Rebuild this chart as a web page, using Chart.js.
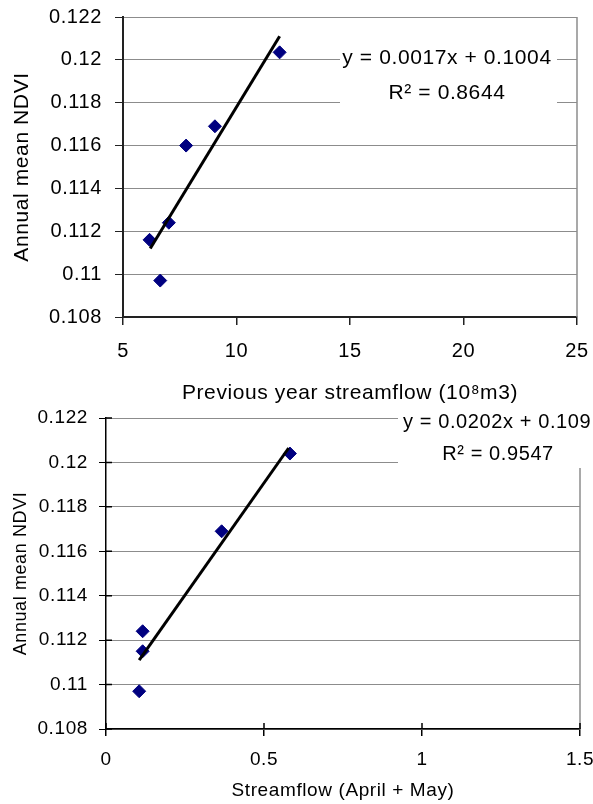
<!DOCTYPE html>
<html>
<head>
<meta charset="utf-8">
<title>Annual mean NDVI vs streamflow</title>
<script src="https://cdn.jsdelivr.net/npm/chart.js@4.4.1/dist/chart.umd.min.js"></script>
<style>
  html, body { margin: 0; padding: 0; background: #fff; }
  #wrap { position: relative; width: 593px; height: 804px; overflow: hidden; }
  canvas { position: absolute; left: 0; }
  #topChart { top: 0; }
  #bottomChart { top: 400px; }
</style>
</head>
<body>
<div id="wrap">
  <canvas id="topChart" width="593" height="404"></canvas>
  <canvas id="bottomChart" width="593" height="404"></canvas>
</div>
<script>
// ------------------ Data ------------------
// top: previous year streamflow (10^8 m3) vs annual mean NDVI
const prevFlow = [6.17, 6.64, 7.02, 7.78, 9.05, 11.9];
const prevNdvi = [0.1116, 0.1097, 0.1124, 0.1160, 0.1169, 0.12035];
const prevTrendX = [6.2, 11.9];
const prevTrendY = [0.1112, 0.1211];
const prevXTicks = [5, 10, 15, 20, 25];
const prevEq = ["y = 0.0017x + 0.1004", "R\u00b2 = 0.8644"];

// bottom: streamflow (April + May) vs annual mean NDVI
const springFlow = [0.105, 0.116, 0.116, 0.366, 0.582];
const springNdvi = [0.1097, 0.1115, 0.1124, 0.1169, 0.1204];
const springTrendX = [0.105, 0.578];
const springTrendY = [0.1111, 0.12065];
const springXTicks = [0, 0.5, 1, 1.5];
const springEq = ["y = 0.0202x + 0.109", "R\u00b2 = 0.9547"];

const ndviTicks = [0.108, 0.11, 0.112, 0.114, 0.116, 0.118, 0.12, 0.122];

const FONT = "'Liberation Sans', Arial, sans-serif";
const toXY = (xs, ys) => xs.map((x, i) => ({ x, y: ys[i] }));

// keep tick labels from pushing the plot area in
const noEdgePadding = axis => {
  axis.paddingLeft = 0;
  axis.paddingRight = 0;
  axis.paddingTop = 0;
  axis.paddingBottom = 0;
};

// right edge, inner tick halves and the white equation label
const framePlugin = {
  id: "frame",
  beforeDraw(chart, args, opts) {
    chart.ctx.letterSpacing = opts.spacing;
  },
  afterDraw(chart, args, opts) {
    const ctx = chart.ctx;
    const a = chart.chartArea;
    ctx.save();
    ctx.strokeStyle = "#8c8c8c";
    ctx.lineWidth = 1.5;
    ctx.beginPath();
    ctx.moveTo(a.right, a.top);
    ctx.lineTo(a.right, a.bottom);
    ctx.stroke();

    if (opts.innerTick) {
      const xs = chart.scales.x, ys = chart.scales.y;
      ctx.strokeStyle = "#000";
      ctx.lineWidth = 1.5;
      ctx.beginPath();
      xs.ticks.forEach(t => {
        const px = xs.getPixelForValue(t.value);
        ctx.moveTo(px, a.bottom);
        ctx.lineTo(px, a.bottom - opts.innerTick);
      });
      ys.ticks.forEach(t => {
        const py = ys.getPixelForValue(t.value);
        ctx.moveTo(a.left, py);
        ctx.lineTo(a.left + opts.innerTick, py);
      });
      ctx.stroke();
    }

    const b = opts.box;
    ctx.fillStyle = "#fff";
    ctx.fillRect(b.x, b.y, b.w, b.h);
    ctx.fillStyle = "#000";
    ctx.font = opts.font;
    ctx.textBaseline = "alphabetic";
    opts.lines.forEach(l => {
      ctx.textAlign = l.align;
      ctx.fillText(l.text, l.x, l.y);
    });
    ctx.restore();
  }
};

function makeChart(id, c) {
  return new Chart(document.getElementById(id), {
    type: "scatter",
    data: {
      datasets: [
        {
          data: toXY(c.trendX, c.trendY),
          showLine: true,
          borderColor: "#000",
          borderWidth: 3,
          pointRadius: 0
        },
        {
          data: toXY(c.xs, c.ys),
          pointStyle: "rectRot",
          pointRadius: 6.5,
          backgroundColor: "#000080",
          borderColor: "#000080",
          borderWidth: 1
        }
      ]
    },
    options: {
      responsive: false,
      animation: false,
      events: [],
      layout: { padding: c.pad },
      plugins: {
        legend: { display: false },
        tooltip: { enabled: false },
        frame: c.frame
      },
      scales: {
        x: {
          type: "linear",
          min: c.xTicks[0],
          max: c.xTicks[c.xTicks.length - 1],
          afterBuildTicks: axis => { axis.ticks = c.xTicks.map(v => ({ value: v })); },
          afterFit: axis => { axis.height = c.xHeight; noEdgePadding(axis); },
          ticks: {
            color: "#000",
            autoSkip: false,
            maxRotation: 0,
            padding: c.xPad,
            font: { family: FONT, size: c.tickSize, lineHeight: 1 },
            callback: v => String(v)
          },
          grid: { drawOnChartArea: false, tickLength: c.tickLen, tickColor: c.axisColor, lineWidth: 1.5 },
          border: { color: c.axisColor, width: c.axisWidth },
          title: {
            display: true,
            text: c.xTitle,
            color: "#000",
            font: { family: FONT, size: c.xTitleSize, lineHeight: 1 },
            padding: { top: 0, bottom: c.xTitlePad }
          }
        },
        y: {
          min: 0.108,
          max: 0.122,
          afterBuildTicks: axis => { axis.ticks = ndviTicks.map(v => ({ value: v })); },
          afterFit: axis => { axis.width = c.yWidth; noEdgePadding(axis); },
          ticks: {
            color: "#000",
            autoSkip: false,
            padding: c.yPad,
            font: { family: FONT, size: c.tickSize, lineHeight: 1 },
            callback: v => String(v)
          },
          grid: { color: "#8c8c8c", lineWidth: 1, tickLength: c.tickLen, tickColor: c.axisColor },
          border: { color: c.axisColor, width: c.axisWidth },
          title: {
            display: true,
            text: "Annual mean NDVI",
            color: "#000",
            font: { family: FONT, size: c.yTitleSize, lineHeight: 1 },
            padding: { top: c.yTitlePad, bottom: 0 }
          }
        }
      }
    },
    plugins: [framePlugin]
  });
}

// ------------------ Top chart ------------------
makeChart("topChart", {
  xs: prevFlow, ys: prevNdvi, trendX: prevTrendX, trendY: prevTrendY, xTicks: prevXTicks,
  xTitle: "Previous year streamflow (10\u2078m3)",
  pad: { top: 17, right: 16, left: 0, bottom: 0 },
  xHeight: 87, yWidth: 123,
  tickSize: 20, xTitleSize: 21, yTitleSize: 21,
  tickLen: 8, xPad: 16, yPad: 13, xTitlePad: 0, yTitlePad: 12,
  axisColor: "#222", axisWidth: 2,
  frame: {
    spacing: "0.6px",
    innerTick: 0,
    box: { x: 340, y: 40, w: 217, h: 68 },
    font: "21px " + FONT,
    lines: [
      { text: prevEq[0], x: 447, y: 64, align: "center" },
      { text: prevEq[1], x: 447, y: 99, align: "center" }
    ]
  }
});

// ------------------ Bottom chart ------------------
makeChart("bottomChart", {
  xs: springFlow, ys: springNdvi, trendX: springTrendX, trendY: springTrendY, xTicks: springXTicks,
  xTitle: "Streamflow (April + May)",
  pad: { top: 18, right: 13, left: 0, bottom: 0 },
  xHeight: 75, yWidth: 106,
  tickSize: 19, xTitleSize: 19, yTitleSize: 18,
  tickLen: 7, xPad: 14, yPad: 11, xTitlePad: 4, yTitlePad: 12,
  axisColor: "#000", axisWidth: 1.5,
  frame: {
    spacing: "0.6px",
    innerTick: 6,
    box: { x: 398, y: 6, w: 200, h: 62 },
    font: "20px " + FONT,
    lines: [
      { text: springEq[0], x: 403, y: 28, align: "left" },
      { text: springEq[1], x: 498, y: 60, align: "center" }
    ]
  }
});
</script>
</body>
</html>
